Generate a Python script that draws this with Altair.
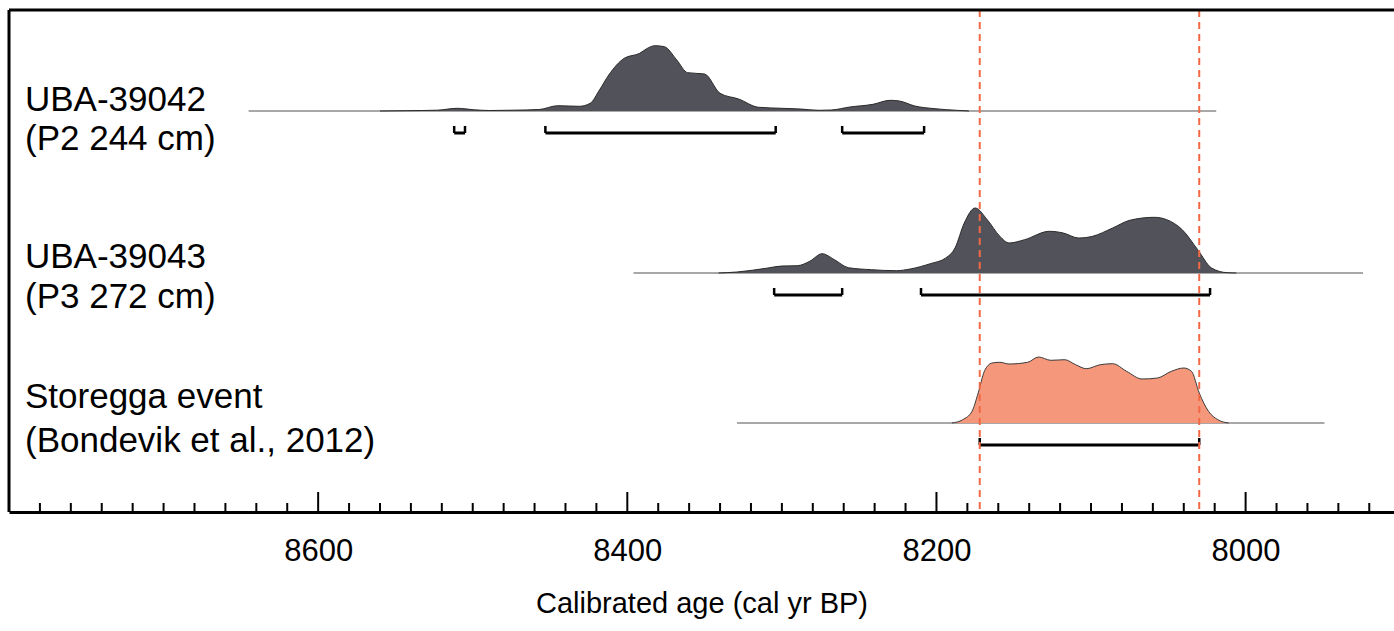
import altair as alt
import pandas as pd

FONT = "Liberation Sans"

# ---------------- data ----------------
TICK_MAJOR = [8600, 8400, 8200, 8000]
TICK_MINOR = [y for y in range(8780, 7905, -20) if y not in TICK_MAJOR]

SAMPLES = ["UBA-39042", "UBA-39043", "Storegga"]
LABEL_LINE1 = ["UBA-39042", "UBA-39043", "Storegga event"]
LABEL_LINE2 = ["(P2 244 cm)", "(P3 272 cm)", "(Bondevik et al., 2012)"]

# calibrated probability curves (relative heights)
R1_YEARS = [8560, 8543, 8523, 8510, 8499, 8489, 8474, 8457, 8445, 8431, 8424, 8418,
            8412, 8402, 8392, 8387, 8382, 8376, 8368, 8361, 8350, 8340, 8328, 8315,
            8300, 8288, 8276, 8268, 8256, 8241, 8230, 8224, 8214, 8201, 8187, 8179]
R1_DENS = [0, 0.3, 0.8, 2.7, 1.2, 0.5, 0.8, 1.5, 5.3, 4.7, 7.7, 21,
           36, 52.7, 57.7, 62.7, 65.3, 64.3, 51, 38.3, 37, 17.7, 12, 3.7,
           2.7, 2, 0.7, 1, 4, 6.7, 10.7, 10, 5, 2.3, 0.7, 0]

R2_YEARS = [8341, 8329, 8309, 8300, 8290, 8282, 8274, 8266, 8257, 8242, 8226, 8217,
            8204, 8194, 8188, 8182, 8175, 8167, 8159, 8153, 8143, 8127, 8118, 8108,
            8099, 8086, 8075, 8059, 8051, 8041, 8031, 8022, 8012, 8006]
R2_DENS = [0, 1, 5, 7, 7.3, 11.7, 19.3, 13.3, 5.3, 3.3, 2.3, 4,
           9.3, 15, 25, 50, 65, 53, 36.7, 30, 33.3, 41.7, 40, 35,
           36.7, 45, 52.7, 55.7, 53.3, 43.3, 23.3, 5, 0.3, 0]

R3_YEARS = [8190, 8183, 8177, 8173, 8169, 8164, 8159, 8153, 8141, 8134, 8126, 8117,
            8110, 8103, 8094, 8086, 8077, 8067, 8057, 8048, 8040, 8035, 8030, 8024,
            8018, 8011]
R3_DENS = [0, 3.3, 11.7, 30, 51.7, 60, 60.7, 59, 60.7, 66, 62.7, 63.3,
           58.3, 54.3, 58.3, 59.3, 51.7, 44, 45, 51.7, 55, 51.7, 30, 11.7,
           3.3, 0]

# calibration range shown by the thin base line of each curve
BASE_START = [8645, 8396, 8329]
BASE_END = [8019, 7924, 7949]

# 95% ranges (brackets)
R1_BRACKETS = [(8512, 8505), (8453, 8304), (8261, 8208)]
R2_BRACKETS = [(8305, 8261), (8210, 8023)]
R3_BRACKETS = [(8172, 8030)]

STOREGGA_RANGE = [8172, 8030]

# ---------------- layout ----------------
W, H = 1385, 502
ROW_BASE = [401, 239, 89]        # y-scale value of each curve's base line
BRACKET_DROP = 22                 # bracket below base line
LABEL_Y = [(100, 139), (257, 297), (397, 441)]  # pixel y of the two label lines

xscale = alt.Scale(domain=[8800, 7904], nice=False, zero=False)
yscale = alt.Scale(domain=[0, H], nice=False, zero=False)
xaxis = alt.Axis(values=TICK_MAJOR, ticks=False, grid=False, domain=True,
                 domainColor="black", domainWidth=3, labelFont=FONT,
                 labelFontSize=31, labelColor="black", labelPadding=24,
                 format="d", labelFlush=False,
                 title="Calibrated age (cal yr BP)", titleFont=FONT,
                 titleFontSize=29, titleFontWeight="normal", titleColor="black",
                 titlePadding=23)


def X(f="yr"):
    return alt.X(f"{f}:Q", scale=xscale, axis=xaxis)


def Y(f):
    return alt.Y(f"{f}:Q", scale=yscale, axis=None)


# density table
rows = []
for s, yrs, ds, b in zip(SAMPLES, [R1_YEARS, R2_YEARS, R3_YEARS],
                         [R1_DENS, R2_DENS, R3_DENS], ROW_BASE):
    for yr, d in zip(yrs, ds):
        rows.append({"sample": s, "yr": yr, "top": b + d, "base": b})
dens = pd.DataFrame(rows)

base_df = pd.DataFrame({"sample": SAMPLES, "yr": BASE_START, "yr2": BASE_END,
                        "y": ROW_BASE})

br_rows = []
for s, brs, b in zip(SAMPLES, [R1_BRACKETS, R2_BRACKETS, R3_BRACKETS], ROW_BASE):
    for a, c in brs:
        br_rows.append({"sample": s, "yr": a, "yr2": c, "y": b - BRACKET_DROP,
                        "yt": b - BRACKET_DROP + 7})
br = pd.DataFrame(br_rows)
br_ends = pd.concat([br[["yr", "y", "yt"]],
                     br[["yr2", "y", "yt"]].rename(columns={"yr2": "yr"})])

ticks_minor = pd.DataFrame({"yr": TICK_MINOR})
ticks_major = pd.DataFrame({"yr": TICK_MAJOR})
storegga = pd.DataFrame({"yr": STOREGGA_RANGE})

lab_rows = []
for l1, l2, (y1, y2) in zip(LABEL_LINE1, LABEL_LINE2, LABEL_Y):
    lab_rows.append({"t": l1, "py": y1 - 10})
    lab_rows.append({"t": l2, "py": y2 - 10})
labels = pd.DataFrame(lab_rows)

one = pd.DataFrame({"k": [0]})

# ---------------- layers ----------------
baselines = alt.Chart(base_df).mark_rule(color="#8e8a8a", strokeWidth=1.5).encode(
    x=X(), x2="yr2:Q", y=Y("y"))

dark = alt.Chart(dens[dens["sample"] != "Storegga"]).mark_area(
    color="#52525a", opacity=1, interpolate="monotone",
    line={"color": "#2a2a2a", "strokeWidth": 1}).encode(
    x=X(), y=Y("top"), y2="base:Q", detail="sample:N")

orange = alt.Chart(dens[dens["sample"] == "Storegga"]).mark_area(
    color="#F4977A", opacity=1, interpolate="monotone",
    line={"color": "#3a3a3a", "strokeWidth": 1}).encode(
    x=X(), y=Y("top"), y2="base:Q")

bracket_h = alt.Chart(br).mark_rule(color="black", strokeWidth=3).encode(
    x=X(), x2="yr2:Q", y=Y("y"))
bracket_v = alt.Chart(br_ends).mark_rule(color="black", strokeWidth=2.5).encode(
    x=X(), y=Y("y"), y2="yt:Q")

red = alt.Chart(storegga).mark_rule(color="#F26A45", strokeWidth=2,
                                     strokeDash=[7, 5]).encode(
    x=X(), y=alt.value(0), y2=alt.value(H))

tminor = alt.Chart(ticks_minor).mark_rule(color="black", strokeWidth=2).encode(
    x=X(), y=alt.value(H), y2=alt.value(H - 9))
tmajor = alt.Chart(ticks_major).mark_rule(color="black", strokeWidth=2).encode(
    x=X(), y=alt.value(H), y2=alt.value(H - 20))

frame_top = alt.Chart(one).mark_rule(color="black", strokeWidth=3).encode(
    x=alt.value(0), x2=alt.value(W + 5), y=alt.value(0))
frame_left = alt.Chart(one).mark_rule(color="black", strokeWidth=3).encode(
    x=alt.value(0), y=alt.value(0), y2=alt.value(H))

text = alt.Chart(labels).mark_text(align="left", baseline="middle", font=FONT,
                                   fontSize=35, color="black").encode(
    x=alt.value(16),
    y=alt.Y("py:Q", scale=alt.Scale(domain=[0, H], range=[0, H]), axis=None),
    text="t:N")

chart = alt.layer(baselines, dark, orange, bracket_h, bracket_v, red, tminor,
                  tmajor, frame_top, frame_left, text).resolve_scale(
    y="independent").properties(
    width=W, height=H,
    padding={"left": 9, "top": 10, "right": 0, "bottom": 119},
    autosize=alt.AutoSizeParams(type="none"),
).configure_view(stroke=None).configure(background="white")

chart.save("out.html", embed_options={"renderer": "svg", "actions": False})
